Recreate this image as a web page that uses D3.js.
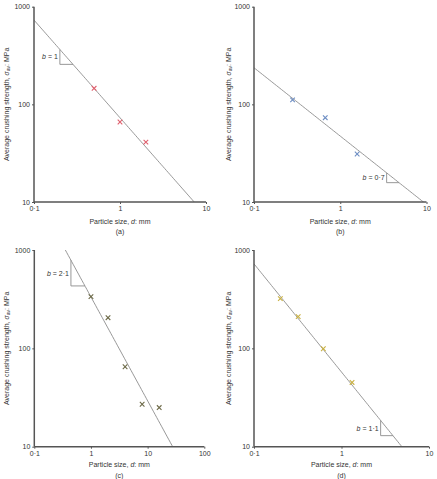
<!DOCTYPE html>
<html><head><meta charset="utf-8">
<script src="https://cdn.jsdelivr.net/npm/d3@7"></script>
<style>
body{margin:0;background:#fff;}
svg{display:block;font-family:"Liberation Sans",Arial,sans-serif;}
</style></head>
<body><svg id="c" width="437" height="479"></svg>
<script>
// ---- data ----
const panelCaptions = ["(a)", "(b)", "(c)", "(d)"];
const sizeA = [0.5, 1, 2];
const strengthA = [146, 66, 41];
const sizeB = [0.28, 0.67, 1.57];
const strengthB = [111, 73, 31];
const sizeC = [1, 2, 4, 8, 16];
const strengthC = [336, 205, 65, 27, 25];
const sizeD = [0.2, 0.32, 0.62, 1.32];
const strengthD = [320, 210, 99, 45];
const fitCoef = [72.9, 47.3, 333, 57.4];   // sigma at d = 1 mm
const fitExp = [1.0, 0.7, 1.056, 1.1];     // log-log slope
const slopeText = ["1", "0·7", "2·1", "1·1"];
const xTickValues = [[0.1, 1, 10], [0.1, 1, 10], [0.1, 1, 10, 100], [0.1, 1, 10]];
const yTickValues = [10, 100, 1000];
const triangleStart = [0.2, 3.45, 0.443, 2.8];
const triangleEnd = [0.284, 4.8, 0.783, 3.87];

const sizes = [sizeA, sizeB, sizeC, sizeD];
const strengths = [strengthA, strengthB, strengthC, strengthD];
const markerColors = ["#e0606e", "#6f8fc4", "#6d6a48", "#c9b143"];

const fmt = v => (v === 0.1 ? "0·1" : String(v));

// ---- layout ----
const panels = [
  {x0: 34, x1: 206, yb: 202, yt: 6.7, xmax: 10, ylab: 6, xl: 221.5, cap: 231},
  {x0: 254, x1: 426.5, yb: 202, yt: 6.7, xmax: 10, ylab: 228, xl: 221.5, cap: 231},
  {x0: 34.3, x1: 204.3, yb: 446.7, yt: 250, xmax: 100, ylab: 6, xl: 464.5, cap: 475},
  {x0: 254, x1: 429, yb: 446.7, yt: 250, xmax: 10, ylab: 228, xl: 464.5, cap: 475}
];

const svg = d3.select("#c");
const defs = svg.append("defs");

panels.forEach((p, i) => {
  const x = d3.scaleLog().domain([0.1, p.xmax]).range([p.x0, p.x1]);
  const y = d3.scaleLog().domain([10, 1000]).range([p.yb, p.yt]);
  const g = svg.append("g");

  defs.append("clipPath").attr("id", "clip" + i)
    .append("rect").attr("x", p.x0).attr("y", p.yt)
    .attr("width", p.x1 - p.x0).attr("height", p.yb - p.yt);

  // fit line
  const fx = d3.range(0, 101).map(k => 0.1 * Math.pow(p.xmax / 0.1, k / 100));
  const line = d3.line().x(d => x(d)).y(d => y(fitCoef[i] * Math.pow(d, -fitExp[i])));
  g.append("path").datum(fx).attr("d", line)
    .attr("clip-path", "url(#clip" + i + ")")
    .attr("fill", "none").attr("stroke", "#8c8c8c").attr("stroke-width", 0.9);

  // slope triangle
  const f = d => fitCoef[i] * Math.pow(d, -fitExp[i]);
  const t0 = triangleStart[i], t1 = triangleEnd[i];
  const tri = [[x(t0), y(f(t0))], [x(t0), y(f(t1))], [x(t1), y(f(t1))]];
  g.append("path").attr("d", d3.line()(tri))
    .attr("fill", "none").attr("stroke", "#8c8c8c").attr("stroke-width", 0.9);
  const ty = (y(f(t0)) + y(f(t1))) / 2;
  const lab = g.append("text").attr("x", x(t0) - 2).attr("y", ty + 2.5)
    .attr("text-anchor", "end").attr("font-size", 7).attr("fill", "#333");
  lab.append("tspan").attr("font-style", "italic").text("b");
  lab.append("tspan").text(" = " + slopeText[i]);

  // markers
  const pts = sizes[i].map((d, k) => [d, strengths[i][k]]);
  const s = 2.3;
  g.selectAll(".m").data(pts).enter().append("path")
    .attr("d", d => {
      const cx = x(d[0]), cy = y(d[1]);
      return `M${cx - s},${cy - s}L${cx + s},${cy + s}M${cx - s},${cy + s}L${cx + s},${cy - s}`;
    })
    .attr("stroke", markerColors[i]).attr("stroke-width", 1.1).attr("fill", "none");

  // axes
  const xa = g.append("g").attr("transform", `translate(0,${p.yb})`)
    .call(d3.axisBottom(x).tickValues(xTickValues[i]).tickFormat(fmt).tickSize(2).tickPadding(2.5));
  const ya = g.append("g").attr("transform", `translate(${p.x0},0)`)
    .call(d3.axisLeft(y).tickValues(yTickValues).tickFormat(fmt).tickSize(2).tickPadding(2));
  [xa, ya].forEach(a => {
    a.select(".domain").attr("stroke", "#555").attr("stroke-width", 1.5);
    a.selectAll(".tick line").attr("stroke", "#555").attr("stroke-width", 1);
    a.selectAll("text").attr("font-size", 7).attr("fill", "#333")
      .attr("font-family", "'Liberation Sans',Arial,sans-serif");
  });
  xa.select(".domain").attr("d", `M${p.x0},0H${p.x1}`);
  ya.select(".domain").attr("d", `M0,${p.yb}V${p.yt}`);

  // x label
  const xl = g.append("text").attr("x", (p.x0 + p.x1) / 2).attr("y", p.xl + 2.5)
    .attr("text-anchor", "middle").attr("font-size", 7).attr("fill", "#333");
  xl.append("tspan").text("Particle size, ");
  xl.append("tspan").attr("font-style", "italic").text("d");
  xl.append("tspan").text(": mm");

  g.append("text").attr("x", (p.x0 + p.x1) / 2).attr("y", p.cap + 2.5)
    .attr("text-anchor", "middle").attr("font-size", 7).attr("fill", "#333")
    .text(panelCaptions[i]);

  // y label
  const ycx = p.ylab, ycy = (p.yb + p.yt) / 2;
  const yl = g.append("text").attr("transform", `translate(${ycx + 2.5},${ycy}) rotate(-90)`)
    .attr("text-anchor", "middle").attr("font-size", 7).attr("fill", "#333");
  yl.append("tspan").text("Average crushing strength, ");
  yl.append("tspan").attr("font-style", "italic").text("σ");
  yl.append("tspan").attr("font-size", 5).attr("dy", 1.5).text("av");
  yl.append("tspan").attr("dy", -1.5).text(": MPa");
});
</script></body></html>
